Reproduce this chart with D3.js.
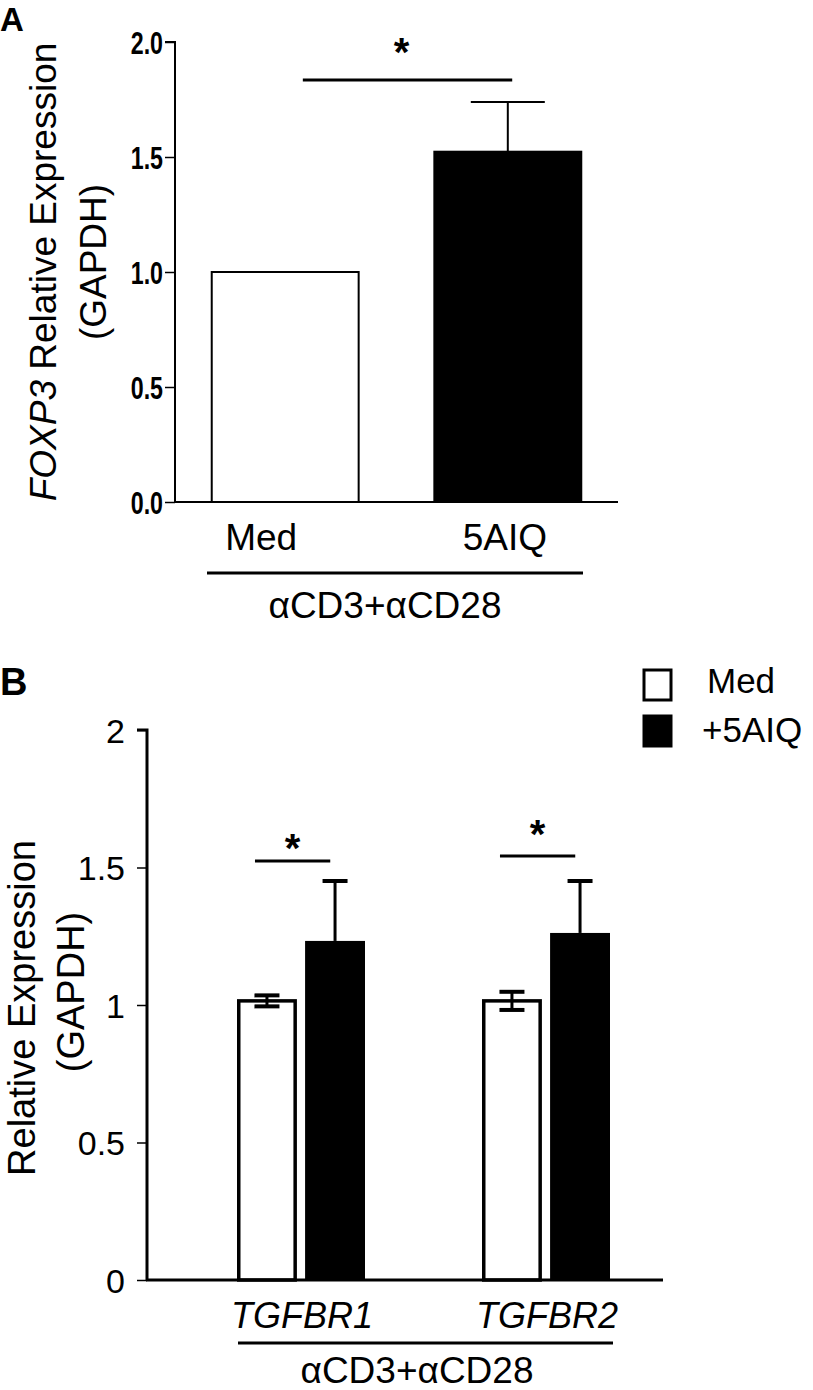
<!DOCTYPE html>
<html><head><meta charset="utf-8">
<script src="https://cdn.jsdelivr.net/npm/d3@7"></script>
<style>
html,body{margin:0;padding:0;background:#fff;}
svg text{font-family:"Liberation Sans",Arial,sans-serif;fill:#000;}
</style></head>
<body>
<svg id="chart" width="813" height="1390"></svg>
<script>
// ---- Panel A data ----
const catsA = ["Med", "5AIQ"];
const valuesA = [1.0, 1.523];
const errorsA = [0, 0.216];
const fillsA = ["#fff", "#000"];
const ticksA = [0, 0.5, 1.0, 1.5, 2.0];
const sigA = {from: "Med", to: "5AIQ", label: "*"};

// ---- Panel B data ----
const genesB = ["TGFBR1", "TGFBR2"];
const seriesB = ["Med", "+5AIQ"];
const medValuesB = [1.015, 1.015];
const medErrorsB = [0.02, 0.033];
const aiqValuesB = [1.233, 1.262];
const aiqErrorsB = [0.218, 0.189];
const ticksB = [0, 0.5, 1, 1.5, 2];
const groupLabel = "αCD3+αCD28";

const svg = d3.select("#chart");

// ================= PANEL A =================
const xA = d3.scaleBand().domain(catsA).range([175, 618]).paddingInner(0.34).paddingOuter(0.165);
const yA = d3.scaleLinear().domain([0, 2]).range([502, 42]);

svg.append("text").attr("x", 0).attr("y", 31).attr("font-size", 33).attr("font-weight", "bold").text("A");

// bars
const gA = svg.append("g");
gA.selectAll("rect").data(catsA).join("rect")
  .attr("x", d => xA(d)).attr("width", xA.bandwidth())
  .attr("y", (d, i) => yA(valuesA[i])).attr("height", (d, i) => yA(0) - yA(valuesA[i]))
  .attr("fill", (d, i) => fillsA[i]).attr("stroke", "#000").attr("stroke-width", 2);

// error bars (upper only)
catsA.forEach((c, i) => {
  if (!errorsA[i]) return;
  const cx = xA(c) + xA.bandwidth() / 2;
  gA.append("line").attr("x1", cx).attr("x2", cx)
    .attr("y1", yA(valuesA[i])).attr("y2", yA(valuesA[i] + errorsA[i]))
    .attr("stroke", "#000").attr("stroke-width", 2);
  gA.append("line").attr("x1", cx - 37).attr("x2", cx + 37)
    .attr("y1", yA(valuesA[i] + errorsA[i])).attr("y2", yA(valuesA[i] + errorsA[i]))
    .attr("stroke", "#000").attr("stroke-width", 2);
});

// y axis A
const axA = svg.append("g").attr("transform", "translate(175,0)")
  .call(d3.axisLeft(yA).tickValues(ticksA).tickFormat(d3.format(".1f")).tickSize(10).tickPadding(3));
axA.select(".domain").attr("stroke-width", 2).attr("d", `M-10,${yA(2)}H0V${yA(0)}`);
axA.selectAll(".tick line").attr("stroke-width", 1.5);
axA.selectAll(".tick text").attr("font-family", "'Liberation Sans Narrow','Arial Narrow',sans-serif")
  .attr("font-weight", "bold").attr("font-size", 27).attr("x", 0).attr("dy", "0.36em")
  .attr("transform", "translate(-12,0) scale(0.86,1.15)");

// x baseline A
svg.append("line").attr("x1", 174).attr("x2", 618).attr("y1", yA(0)).attr("y2", yA(0))
  .attr("stroke", "#000").attr("stroke-width", 2);

// x labels A
const labelOffsetA = [-24, -3];
svg.selectAll(".xlabA").data(catsA).join("text").attr("class", "xlabA")
  .attr("x", (d, i) => xA(d) + xA.bandwidth() / 2 + labelOffsetA[i]).attr("y", 550)
  .attr("text-anchor", "middle").attr("font-size", 37).text(d => d);

svg.append("line").attr("x1", 207).attr("x2", 583).attr("y1", 573).attr("y2", 573)
  .attr("stroke", "#000").attr("stroke-width", 3);
svg.append("text").attr("x", 385).attr("y", 618).attr("text-anchor", "middle").attr("font-size", 37).text(groupLabel);

// significance A
{
  const x1 = xA(sigA.from) + xA.bandwidth() * 0.62, x2 = xA(sigA.to) + xA.bandwidth() * 0.53;
  svg.append("line").attr("x1", x1).attr("x2", x2).attr("y1", 80).attr("y2", 80)
    .attr("stroke", "#000").attr("stroke-width", 3);
  svg.append("text").attr("x", (x1 + x2) / 2 - 6).attr("y", 66).attr("text-anchor", "middle")
    .attr("font-size", 40).attr("font-weight", "bold").text(sigA.label);
}

// y title A
{
  const t = svg.append("text").attr("transform", "translate(56,272) rotate(-90)")
    .attr("text-anchor", "middle").attr("font-size", 37);
  t.append("tspan").attr("font-style", "italic").text("FOXP3");
  t.append("tspan").text(" Relative Expression");
  svg.append("text").attr("transform", "translate(106,262) rotate(-90)")
    .attr("text-anchor", "middle").attr("font-size", 37).text("(GAPDH)");
}

// ================= PANEL B =================
const x0B = d3.scalePoint().domain(genesB).range([301, 546]);
const x1B = d3.scaleBand().domain(seriesB).range([-64, 64]).paddingInner(0.12);
const yB = d3.scaleLinear().domain([0, 2]).range([1280, 730]);

svg.append("text").attr("x", 0).attr("y", 695).attr("font-size", 38).attr("font-weight", "bold").text("B");

const gB = svg.append("g");
genesB.forEach((g, i) => {
  const gx = x0B(g);
  const bw = x1B.bandwidth();
  // Med bar (white)
  const mx = gx + x1B("Med");
  gB.append("rect").attr("x", mx + 1.75).attr("width", bw - 3.5)
    .attr("y", yB(medValuesB[i])).attr("height", yB(0) - yB(medValuesB[i]))
    .attr("fill", "#fff").attr("stroke", "#000").attr("stroke-width", 3.5);
  // AIQ bar (black)
  const ax = gx + x1B("+5AIQ");
  gB.append("rect").attr("x", ax).attr("width", bw)
    .attr("y", yB(aiqValuesB[i])).attr("height", yB(0) - yB(aiqValuesB[i]))
    .attr("fill", "#000");
  // error bars
  const mcx = mx + bw / 2;
  gB.append("line").attr("x1", mcx).attr("x2", mcx)
    .attr("y1", yB(medValuesB[i] - medErrorsB[i])).attr("y2", yB(medValuesB[i] + medErrorsB[i]))
    .attr("stroke", "#000").attr("stroke-width", 3);
  [medValuesB[i] - medErrorsB[i], medValuesB[i] + medErrorsB[i]].forEach(v => {
    gB.append("line").attr("x1", mcx - 12.5).attr("x2", mcx + 12.5).attr("y1", yB(v)).attr("y2", yB(v))
      .attr("stroke", "#000").attr("stroke-width", 4);
  });
  const acx = ax + bw / 2;
  gB.append("line").attr("x1", acx).attr("x2", acx)
    .attr("y1", yB(aiqValuesB[i])).attr("y2", yB(aiqValuesB[i] + aiqErrorsB[i]))
    .attr("stroke", "#000").attr("stroke-width", 3);
  gB.append("line").attr("x1", acx - 12.5).attr("x2", acx + 12.5)
    .attr("y1", yB(aiqValuesB[i] + aiqErrorsB[i])).attr("y2", yB(aiqValuesB[i] + aiqErrorsB[i]))
    .attr("stroke", "#000").attr("stroke-width", 4);
});

// significance B
const sigLineY = [861, 856];
const starTop = [833, 819];
genesB.forEach((g, i) => {
  const x1 = x0B(g) + x1B("Med") + x1B.bandwidth() * 0.3;
  const x2 = x0B(g) + x1B("+5AIQ") + x1B.bandwidth() * 0.42;
  svg.append("line").attr("x1", x1).attr("x2", x2).attr("y1", sigLineY[i]).attr("y2", sigLineY[i])
    .attr("stroke", "#000").attr("stroke-width", 3);
  svg.append("text").attr("x", (x1 + x2) / 2).attr("y", starTop[i] + 29).attr("text-anchor", "middle")
    .attr("font-size", 40).attr("font-weight", "bold").text("*");
});

// y axis B
const axB = svg.append("g").attr("transform", "translate(147,0)")
  .call(d3.axisLeft(yB).tickValues(ticksB).tickFormat(d3.format("")).tickSize(10).tickPadding(12));
axB.select(".domain").attr("stroke-width", 3).attr("d", `M-10,${yB(2)}H0V${yB(0)}`);
axB.selectAll(".tick line").attr("stroke-width", 1.5);
axB.selectAll(".tick text").attr("font-family", "'Liberation Sans',Arial,sans-serif")
  .attr("font-size", 34).attr("dy", "0.36em");

svg.append("line").attr("x1", 146).attr("x2", 663).attr("y1", yB(0)).attr("y2", yB(0))
  .attr("stroke", "#000").attr("stroke-width", 3);

// x labels B
svg.selectAll(".xlabB").data(genesB).join("text").attr("class", "xlabB")
  .attr("x", d => x0B(d) + 1).attr("y", 1328).attr("text-anchor", "middle")
  .attr("font-size", 36).attr("font-style", "italic").text(d => d);
svg.append("line").attr("x1", 238).attr("x2", 613).attr("y1", 1343).attr("y2", 1343)
  .attr("stroke", "#000").attr("stroke-width", 3);
svg.append("text").attr("x", 417).attr("y", 1383).attr("text-anchor", "middle").attr("font-size", 37).text(groupLabel);

// y title B
svg.append("text").attr("transform", "translate(35,1008) rotate(-90)")
  .attr("text-anchor", "middle").attr("font-size", 38).text("Relative Expression");
svg.append("text").attr("transform", "translate(84,992) rotate(-90)")
  .attr("text-anchor", "middle").attr("font-size", 38).text("(GAPDH)");

// legend B
const legFills = ["#fff", "#000"];
const legend = svg.append("g");
seriesB.forEach((s, i) => {
  const ly = 669 + i * 46;
  legend.append("rect").attr("x", 644).attr("y", ly + 1).attr("width", 27).attr("height", 30)
    .attr("fill", legFills[i]).attr("stroke", "#000").attr("stroke-width", 3);
  legend.append("text").attr("x", i === 0 ? 707 : 702).attr("y", ly + 24 + i * 3).attr("font-size", 35).text(s);
});
</script>
</body></html>
